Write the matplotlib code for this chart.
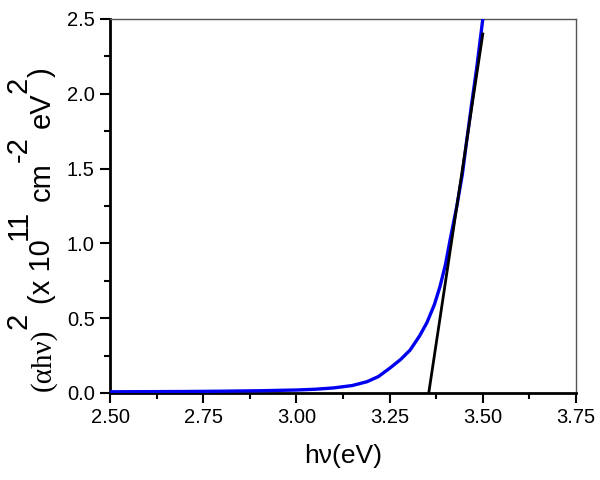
import matplotlib
matplotlib.use("Agg")
import matplotlib.pyplot as plt
from matplotlib.ticker import MultipleLocator, FormatStrFormatter
from matplotlib.transforms import IdentityTransform

plt.rcParams['font.family'] = ['Liberation Sans', 'DejaVu Sans']

# Blue curve: (alpha h nu)^2 vs photon energy
energy = [2.50, 2.60, 2.70, 2.80, 2.90, 3.00, 3.05, 3.10, 3.15, 3.19, 3.22, 3.25,
          3.28, 3.305, 3.33, 3.35, 3.37, 3.385, 3.40, 3.412, 3.43, 3.445, 3.457,
          3.47, 3.484, 3.50]
alpha_hv2 = [0.008, 0.009, 0.010, 0.012, 0.015, 0.020, 0.025, 0.034, 0.050, 0.076,
             0.110, 0.165, 0.225, 0.287, 0.380, 0.470, 0.590, 0.710, 0.860, 1.020,
             1.245, 1.460, 1.690, 1.930, 2.180, 2.500]

# Linear extrapolation (Tauc fit)
fit_x = [3.355, 3.50]
fit_y = [0.0, 2.40]

fig = plt.figure(figsize=(6, 4.8), dpi=100)
ax = fig.add_axes([110/600, 1-393/480, (576-110)/600, (393-19)/480])

ax.plot(energy, alpha_hv2, color='#0000ee', lw=2.4, zorder=3)
ax.plot(fit_x, fit_y, color='black', lw=2.0, zorder=4)

ax.set_xlim(2.5, 3.75)
ax.set_ylim(0, 2.5)
ax.xaxis.set_major_locator(MultipleLocator(0.25))
ax.xaxis.set_minor_locator(MultipleLocator(0.125))
ax.yaxis.set_major_locator(MultipleLocator(0.5))
ax.yaxis.set_minor_locator(MultipleLocator(0.25))
ax.xaxis.set_major_formatter(FormatStrFormatter('%.2f'))
ax.yaxis.set_major_formatter(FormatStrFormatter('%.1f'))

ax.tick_params(which='both', direction='out', top=False, right=False, width=1.5, labelsize=14.5)
ax.tick_params(which='major', length=7, pad=4)
ax.tick_params(which='minor', length=4)

for s in ['left', 'bottom']:
    ax.spines[s].set_linewidth(2.0)
    ax.spines[s].set_color('black')
for s in ['top', 'right']:
    ax.spines[s].set_linewidth(1.0)
    ax.spines[s].set_color('#555555')

ax.set_xlabel('h\u03bd(eV)', fontsize=19, labelpad=12)

# Y label built piecewise (Origin-style full-size superscripts)
ylabel_parts = [
    ('(\u03b1h\u03bd)', 'main', False),
    ('2', 'sup', False),
    ('(x 10', 'main', True),
    ('11', 'sup', False),
    ('cm', 'main', True),
    ('-2', 'sup', False),
    ('eV', 'main', True),
    ('2', 'sup', False),
    (')', 'main', False),
]
fig.canvas.draw()
renderer = fig.canvas.get_renderer()
fs = 21
x_main, x_sup = 50, 27
ypos = 480 - 391
probe = fig.text(0, 0, 'a a', fontsize=fs)
probe2 = fig.text(0, 0, 'aa', fontsize=fs)
space_w = probe.get_window_extent(renderer).width - probe2.get_window_extent(renderer).width
probe.remove(); probe2.remove()
for i, (s, kind, gap) in enumerate(ylabel_parts):
    if gap:
        ypos += space_w
    fam = ['Liberation Serif', 'DejaVu Serif'] if i == 0 else ['Liberation Sans', 'DejaVu Sans']
    t = fig.text(x_main if kind == 'main' else x_sup, ypos, s, rotation=90,
                 rotation_mode='anchor', ha='left', va='baseline',
                 transform=IdentityTransform(), fontsize=fs, family=fam)
    ypos += t.get_window_extent(renderer).height

fig.savefig('out.png', dpi=100)
